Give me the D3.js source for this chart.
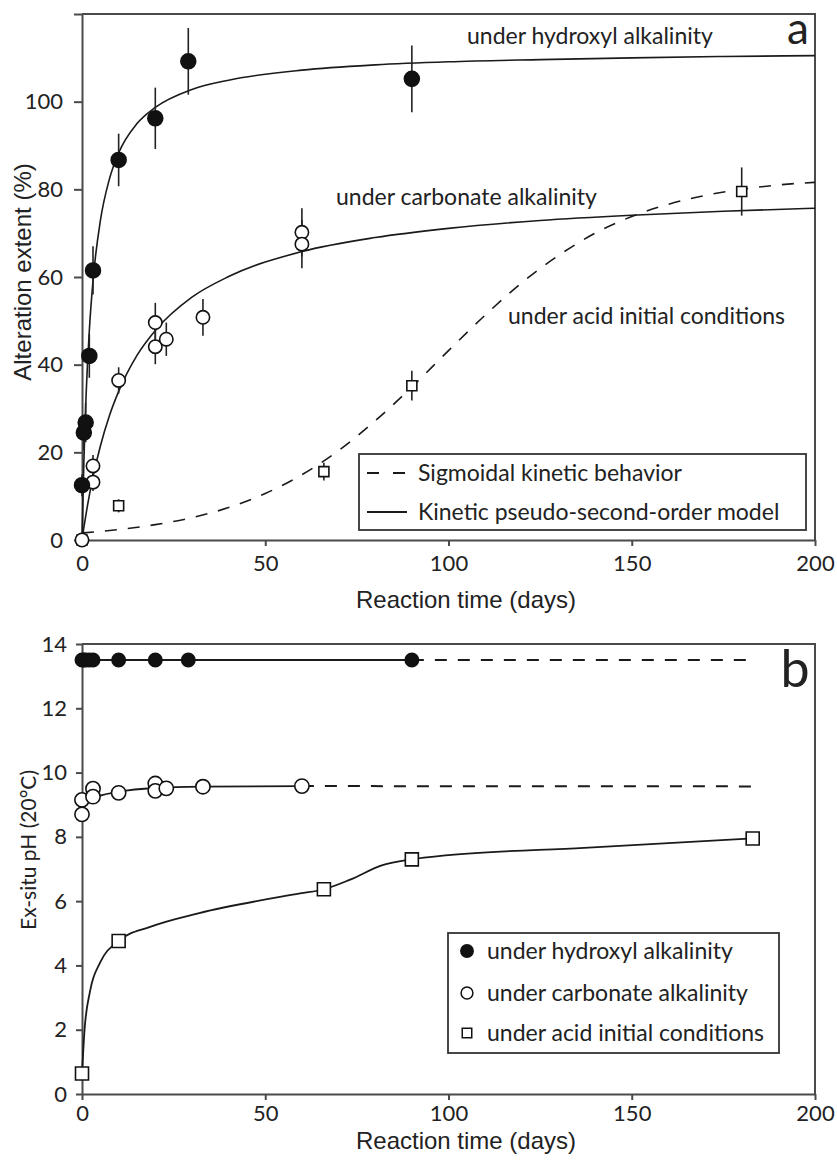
<!DOCTYPE html>
<html>
<head>
<meta charset="utf-8">
<script src="https://cdn.jsdelivr.net/npm/d3@7"></script>
<style>
	body { margin: 0; background: #fff; }
	svg text { font-family: Lato, "Open Sans", sans-serif; fill: #222; }
	.axis text { font-size: 22px; }
	.axis path, .axis line { stroke: #4a4a4a; stroke-width: 2; }
	.frame { stroke: #4a4a4a; stroke-width: 2; }
	.title { font-family: "Liberation Sans", Arial, sans-serif; font-size: 24px; }
	.note { font-size: 23px; }
	.panel { font-size: 44px; }
</style>
</head>
<body>
<div id="graphic"></div>
<script>
// ticks
const xTicks = [0, 50, 100, 150, 200];
const yTicksA = [0, 20, 40, 60, 80, 100, 120];
const yTicksB = [0, 2, 4, 6, 8, 10, 12, 14];

// panel a : alteration extent (%) with error bars
const hydDays = [0, 0.5, 1, 2, 3, 10, 20, 29, 90];
const hydAlt = [12.5, 24.5, 26.8, 42, 61.5, 86.7, 96.2, 109.2, 105.2];
const hydErr = [2.5, 4, 4.5, 5, 5.5, 6, 7, 7.6, 7.6];

const carbDays = [0, 3, 3, 10, 20, 20, 23, 33, 60, 60];
const carbAlt = [0, 16.9, 13.2, 36.4, 49.6, 44.1, 45.8, 50.8, 70.2, 67.5];
const carbErr = [0, 2.5, 2, 3, 4.5, 4, 3.8, 4.2, 5.5, 5.5];

const acidDays = [0, 10, 66, 90, 180];
const acidAlt = [0, 7.8, 15.6, 35.2, 79.5];
const acidErr = [0, 1.5, 2, 3.4, 5.5];

// model curves
const fitDays = [0, 0.5, 1, 2, 3, 5, 7.5, 10, 15, 20, 30, 40, 60, 80, 100, 125, 150, 175, 200];
const hydFit = [0, 17.6, 30.4, 47.8, 59.1, 72.8, 82.4, 88.3, 95.0, 98.7, 102.8, 104.9, 107.2, 108.4, 109.1, 109.6, 110.0, 110.3, 110.5];
const carbFit = [0, 2.8, 5.4, 10.2, 14.4, 21.4, 28.4, 33.9, 42.1, 47.8, 55.4, 60.1, 65.8, 69.0, 71.1, 72.9, 74.1, 75.0, 75.7];
const sigDays = [0, 10, 20, 30, 40, 50, 60, 70, 80, 90, 100, 110, 120, 130, 140, 150, 160, 170, 180, 190, 200];
const sigFit = [1.6, 2.4, 3.5, 5.1, 7.4, 10.6, 14.9, 20.4, 27.2, 34.9, 43.2, 51.3, 58.7, 64.9, 70.0, 73.8, 76.6, 78.6, 80.0, 81.0, 81.6];

// panel b : ex-situ pH
const hydPHDays = [0, 0.5, 1, 2, 3, 10, 20, 29, 90];
const hydPH = [13.5, 13.5, 13.5, 13.5, 13.5, 13.5, 13.5, 13.5, 13.5];
const carbPHDays = [0, 0, 3, 3, 10, 20, 20, 23, 33, 60];
const carbPH = [9.15, 8.7, 9.5, 9.25, 9.37, 9.66, 9.43, 9.51, 9.56, 9.58];
const acidPHDays = [0, 10, 66, 90, 183];
const acidPH = [0.64, 4.76, 6.37, 7.3, 7.95];

// trend lines drawn through the pH points (solid) and their extension (dashed)
const hydTrendDays = [0, 90];
const hydTrend = [13.5, 13.5];
const hydExtDays = [90, 184];
const hydExt = [13.5, 13.5];
const carbTrendDays = [0, 3, 10, 20, 33, 60];
const carbTrend = [8.85, 9.2, 9.4, 9.52, 9.56, 9.58];
const carbExtDays = [60, 184];
const carbExt = [9.58, 9.57];
const acidTrendDays = [0, 0.7, 2.2, 5, 10, 18.6, 32, 59.5, 66, 73, 82, 90, 100, 137, 183];
const acidTrend = [0.64, 2.0, 3.2, 4.1, 4.76, 5.2, 5.63, 6.24, 6.37, 6.66, 7.12, 7.3, 7.43, 7.66, 7.95];

const legendA = ['Sigmoidal kinetic behavior', 'Kinetic pseudo-second-order model'];
const legendB = ['under hydroxyl alkalinity', 'under carbonate alkalinity', 'under acid initial conditions'];

const zip = (xs, ys) => xs.map((d, i) => [d, ys[i]]);

let svg = d3.select('#graphic').append('svg')
	.attr('width', 837)
	.attr('height', 1160);

const x = d3.scaleLinear().domain([0, 200]).range([82, 815]);
const yA = d3.scaleLinear().domain([0, 120]).range([540, 14]);
const yB = d3.scaleLinear().domain([0, 14]).range([1094, 644]);

function drawFrame(y, top, tickSize, padX, padY, yFormat, yTicks) {
	svg.append('g')
		.attr('class', 'axis')
		.attr('transform', 'translate(0,' + y.range()[0] + ')')
		.call(d3.axisBottom(x).tickValues(xTicks).tickSize(6).tickPadding(padX).tickSizeOuter(0));
	svg.append('g')
		.attr('class', 'axis')
		.attr('transform', 'translate(' + x.range()[0] + ',0)')
		.call(d3.axisLeft(y).tickValues(yTicks).tickSize(tickSize).tickPadding(padY).tickSizeOuter(0).tickFormat(yFormat));
	svg.selectAll('.axis .domain').attr('fill', 'none');
	//top and right edge of the box
	svg.append('path')
		.attr('class', 'frame')
		.attr('fill', 'none')
		.attr('d', d3.line()([[x(0), y(top)], [x(200), y(top)], [x(200), y.range()[0]]]));
}

function drawLine(days, vals, y, dashed, width) {
	svg.append('path')
		.datum(zip(days, vals))
		.attr('fill', 'none')
		.attr('stroke', '#1a1a1a')
		.attr('stroke-width', width || 1.6)
		.attr('stroke-dasharray', dashed ? '12,11' : null)
		.attr('d', d3.line().x(d => x(d[0])).y(d => y(d[1])).curve(d3.curveMonotoneX));
}

function drawErrors(days, vals, errs, y) {
	svg.append('g')
		.selectAll('line')
		.data(days.map((d, i) => ({ d: d, v: vals[i], e: errs[i] })).filter(p => p.e > 0))
		.join('line')
		.attr('x1', p => x(p.d)).attr('x2', p => x(p.d))
		.attr('y1', p => y(p.v - p.e)).attr('y2', p => y(p.v + p.e))
		.attr('stroke', '#222')
		.attr('stroke-width', 1.6);
}

function drawMarkers(days, vals, y, type, area, fill) {
	svg.append('g')
		.selectAll('path')
		.data(zip(days, vals))
		.join('path')
		.attr('transform', d => 'translate(' + x(d[0]) + ',' + y(d[1]) + ')')
		.attr('d', d3.symbol().type(type).size(area))
		.attr('fill', fill)
		.attr('stroke', '#111')
		.attr('stroke-width', 1.6);
}

// ---------- panel a ----------
drawFrame(yA, 120, 8, 9, 11, d => d === 120 ? '' : d, yTicksA);

drawLine(fitDays, hydFit, yA, false);
drawLine(fitDays, carbFit, yA, false);
drawLine(sigDays, sigFit, yA, true);

drawErrors(hydDays, hydAlt, hydErr, yA);
drawErrors(carbDays, carbAlt, carbErr, yA);
drawErrors(acidDays, acidAlt, acidErr, yA);

drawMarkers(acidDays, acidAlt, yA, d3.symbolSquare, 100, '#fff');
drawMarkers(carbDays, carbAlt, yA, d3.symbolCircle, 140, '#fff');
drawMarkers(hydDays, hydAlt, yA, d3.symbolCircle, 175, '#111');

svg.append('text').attr('class', 'note').attr('x', 467).attr('y', 44).text('under hydroxyl alkalinity');
svg.append('text').attr('class', 'note').attr('x', 336).attr('y', 205).text('under carbonate alkalinity');
svg.append('text').attr('class', 'note').attr('x', 508).attr('y', 324).text('under acid initial conditions');
svg.append('text').attr('class', 'panel').attr('x', 798).attr('y', 44).attr('text-anchor', 'middle').text('a');

// legend a
let legA = svg.append('g');
legA.append('rect').attr('x', 359).attr('y', 454).attr('width', 447).attr('height', 76)
	.attr('fill', '#fff').attr('stroke', '#333').attr('stroke-width', 1.8);
legA.selectAll('g.item')
	.data(legendA)
	.join('g')
	.attr('class', 'item')
	.attr('transform', (d, i) => 'translate(367,' + (473 + i * 39) + ')')
	.each(function (d, i) {
		let g = d3.select(this);
		g.append('line').attr('x1', 0).attr('x2', 40).attr('y1', 0).attr('y2', 0)
			.attr('stroke', '#1a1a1a').attr('stroke-width', 1.8)
			.attr('stroke-dasharray', i === 0 ? '12,14' : null);
		g.append('text').attr('class', 'note').attr('x', 51).attr('y', 8).text(d);
	});

svg.append('text').attr('class', 'title')
	.attr('transform', 'translate(25,272) rotate(-90)')
	.attr('text-anchor', 'middle').attr('dominant-baseline', 'middle')
	.text('Alteration extent (%)');
svg.append('text').attr('class', 'title')
	.attr('x', 466).attr('y', 602)
	.attr('text-anchor', 'middle').attr('dominant-baseline', 'middle')
	.text('Reaction time (days)');

// ---------- panel b ----------
drawFrame(yB, 14, 6, 5, 9, d => d, yTicksB);

drawLine(hydTrendDays, hydTrend, yB, false, 2);
drawLine(hydExtDays, hydExt, yB, true, 2);
drawLine(carbTrendDays, carbTrend, yB, false, 1.8);
drawLine(carbExtDays, carbExt, yB, true, 2);
drawLine(acidTrendDays, acidTrend, yB, false, 1.8);

drawMarkers(acidPHDays, acidPH, yB, d3.symbolSquare, 169, '#fff');
drawMarkers(carbPHDays, carbPH, yB, d3.symbolCircle, 160, '#fff');
drawMarkers(hydPHDays, hydPH, yB, d3.symbolCircle, 140, '#111');

svg.append('text').attr('class', 'panel').attr('x', 795).attr('y', 687).attr('text-anchor', 'middle')
	.style('font-size', '52px').text('b');

// legend b
let legB = svg.append('g');
legB.append('rect').attr('x', 448).attr('y', 933).attr('width', 331).attr('height', 120)
	.attr('fill', '#fff').attr('stroke', '#333').attr('stroke-width', 1.8);
const legTypes = [d3.symbolCircle, d3.symbolCircle, d3.symbolSquare];
const legFills = ['#111', '#fff', '#fff'];
const legAreas = [120, 110, 90];
legB.selectAll('g.item')
	.data(legendB)
	.join('g')
	.attr('class', 'item')
	.attr('transform', (d, i) => 'translate(467,' + [951, 993, 1033][i] + ')')
	.each(function (d, i) {
		let g = d3.select(this);
		g.append('path').attr('d', d3.symbol().type(legTypes[i]).size(legAreas[i]))
			.attr('fill', legFills[i]).attr('stroke', '#111').attr('stroke-width', 1.5);
		g.append('text').attr('class', 'note').attr('x', 20).attr('y', 8).text(d);
	});

svg.append('text')
	.attr('transform', 'translate(31,850) rotate(-90)')
	.attr('text-anchor', 'middle').attr('dominant-baseline', 'middle')
	.style('font-size', '21px')
	.text('Ex-situ pH (20°C)');
svg.append('text').attr('class', 'title')
	.attr('x', 466).attr('y', 1143)
	.attr('text-anchor', 'middle').attr('dominant-baseline', 'middle')
	.text('Reaction time (days)');
</script>
</body>
</html>
